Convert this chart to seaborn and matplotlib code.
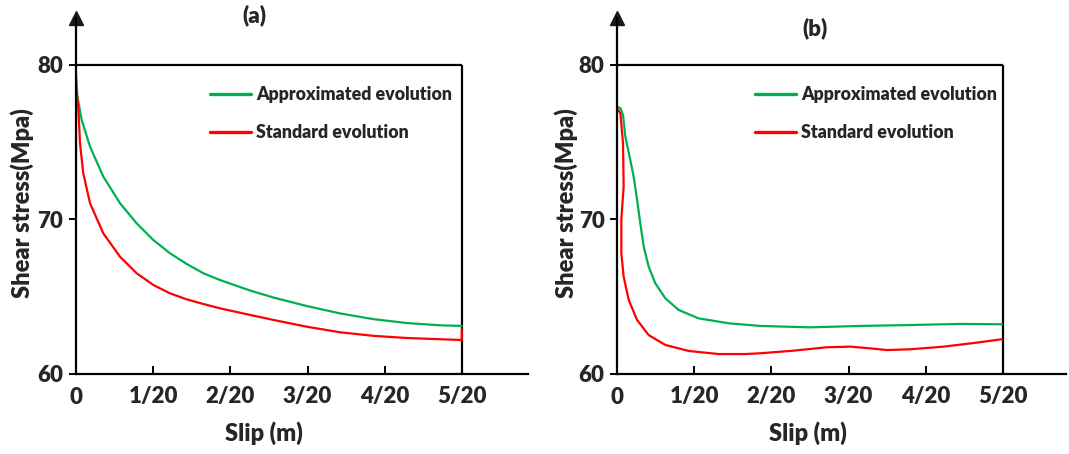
import matplotlib
matplotlib.use("Agg")
import matplotlib.pyplot as plt
import seaborn as sns
import pandas as pd

# ---------------- data ----------------
slip_a_approx = [0.0, 0.0009, 0.0037, 0.0091, 0.0177, 0.0285, 0.0393, 0.0501, 0.0609, 0.0717,
                 0.0825, 0.0933, 0.1128, 0.1278, 0.1494, 0.1710, 0.1926, 0.2142,
                 0.2358, 0.2498]
stress_a_approx = [79.46, 77.95, 76.44, 74.71, 72.77, 71.05, 69.75, 68.67, 67.81, 67.12,
                   66.52, 66.08, 65.40, 64.95, 64.40, 63.92, 63.55, 63.30,
                   63.15, 63.11]

slip_a_std = [0.0, 0.0, 0.0015, 0.0026, 0.0047, 0.0091, 0.0177, 0.0285, 0.0393, 0.0501,
              0.0609, 0.0717, 0.0825, 0.0933, 0.1128, 0.1278, 0.1494, 0.1710,
              0.1926, 0.2142, 0.2358, 0.2498, 0.2498]
stress_a_std = [70.7, 78.6, 77.3, 74.93, 72.99, 71.05, 69.1, 67.59, 66.52, 65.76,
                65.22, 64.83, 64.53, 64.25, 63.82, 63.50, 63.06, 62.70,
                62.47, 62.33, 62.25, 62.2, 62.89]

slip_b_approx = [0.0, 0.0022, 0.0039, 0.0054, 0.0086, 0.0108, 0.013, 0.0151, 0.0173, 0.0205,
                 0.0248, 0.0313, 0.04, 0.0529, 0.0724, 0.0927, 0.125, 0.1575, 0.1899,
                 0.2223, 0.2493]
stress_b_approx = [77.30, 77.2, 76.76, 75.36, 73.85, 72.77, 71.26, 69.75, 68.24, 66.95,
                   65.87, 64.9, 64.14, 63.6, 63.28, 63.11, 63.02, 63.11, 63.17,
                   63.24, 63.22]

slip_b_std = [0.0, 0.0022, 0.0039, 0.0043, 0.0028, 0.0028, 0.0043, 0.0076, 0.013, 0.0205,
              0.0313, 0.0465, 0.0659, 0.0831, 0.0927, 0.1143, 0.1359, 0.151, 0.164,
              0.1748, 0.1899, 0.2115, 0.2331, 0.2493]
stress_b_std = [77.2, 76.87, 74.93, 72.12, 69.97, 67.81, 66.3, 64.79, 63.5, 62.52,
                61.88, 61.49, 61.29, 61.29, 61.34, 61.51, 61.73, 61.77, 61.66,
                61.55, 61.6, 61.77, 62.03, 62.25]

x_ticks = [0, 0.05, 0.10, 0.15, 0.20, 0.25]
x_tick_labels = ["0", "1/20", "2/20", "3/20", "4/20", "5/20"]
y_ticks = [60, 70, 80]
series_names = ["Approximated evolution", "Standard evolution"]
panel_titles = ["(a)", "(b)"]

GREEN = "#00B050"
RED = "#FF0000"

sns.set_theme(style="white")
plt.rcParams["font.family"] = ["Lato", "DejaVu Sans"]

W, H = 1069, 454
fig = plt.figure(figsize=(W / 100, H / 100), dpi=100)
ax_a = fig.add_axes([76 / W, 1 - 374 / H, 452 / W, 356 / H])
ax_b = fig.add_axes([617 / W, 1 - 374 / H, 449 / W, 356 / H])

FW = "heavy"
panels = [
    # ax, x approx, y approx, x std, y std, xmax, legend x, title x, title y, xlabel x, ylabel x
    (ax_a, slip_a_approx, stress_a_approx, slip_a_std, stress_a_std, 0.2927, 0.296,
     0.394, 1.008, 0.416, -0.119),
    (ax_b, slip_b_approx, stress_b_approx, slip_b_std, stress_b_std, 0.2908, 0.307,
     0.441, 0.972, 0.425, -0.114),
]

for i, (ax, xa, ya, xs, ys, xmax, legx, tx, ty, xlx, ylx) in enumerate(panels):
    da = pd.DataFrame({"slip": xa, "stress": ya})
    ds = pd.DataFrame({"slip": xs, "stress": ys})
    sns.lineplot(data=da, x="slip", y="stress", sort=False, estimator=None, color=GREEN,
                 linewidth=1.6, ax=ax, label=series_names[0])
    sns.lineplot(data=ds, x="slip", y="stress", sort=False, estimator=None, color=RED,
                 linewidth=1.6, ax=ax, label=series_names[1])
    for ln in ax.get_lines():
        ln.set_solid_joinstyle("round")
        ln.set_solid_capstyle("round")
    ax.set_xlim(0, xmax)
    ax.set_ylim(60, 83.04)
    # frame lines closing the data region
    ax.hlines(y_ticks[-1], x_ticks[0], x_ticks[-1], color="black", linewidth=1.6, zorder=1)
    ax.vlines(x_ticks[-1], y_ticks[0], y_ticks[-1], color="black", linewidth=1.6, zorder=1)

    for s in ["top", "right"]:
        ax.spines[s].set_visible(False)
    for s in ["left", "bottom"]:
        ax.spines[s].set_color("black")
        ax.spines[s].set_linewidth(1.6)
    ax.plot(1, 0, ">k", markersize=10, transform=ax.get_yaxis_transform(), clip_on=False)
    ax.plot(0, 1, "^k", markersize=10, transform=ax.get_xaxis_transform(), clip_on=False)

    ax.set_xticks(x_ticks)
    ax.set_xticklabels(x_tick_labels, fontsize=16, fontweight=FW)
    ax.set_yticks(y_ticks)
    ax.set_yticklabels([str(v) for v in y_ticks], fontsize=16, fontweight=FW)
    ax.tick_params(axis="x", direction="in", length=6, width=1.4, color="black", pad=9,
                   bottom=True)
    ax.tick_params(axis="y", direction="out", length=5, width=1.4, color="black", pad=4,
                   left=True)
    ax.set_xlabel("Slip (m)", fontsize=17, fontweight=FW)
    ax.set_ylabel("Shear stress(Mpa)", fontsize=17, fontweight=FW)
    ax.xaxis.label.set_va("center")
    ax.yaxis.label.set_va("center")
    ax.xaxis.set_label_coords(xlx, (374 - 433) / 356)
    ax.yaxis.set_label_coords(ylx, (374 - 203) / 356)
    ax.grid(False)

    leg = ax.legend(loc="upper left", bbox_to_anchor=(legx, 0.809), frameon=False,
                    prop={"size": 12.8, "weight": FW}, handlelength=2.3,
                    handletextpad=0.32, labelspacing=1.2, borderpad=0, borderaxespad=0)
    for line in leg.get_lines():
        line.set_linewidth(2.4)

    ax.text(tx, ty, panel_titles[i], transform=ax.transAxes, ha="center", va="center",
            fontsize=16, fontweight=FW)

fig.savefig("out.png", dpi=100)
